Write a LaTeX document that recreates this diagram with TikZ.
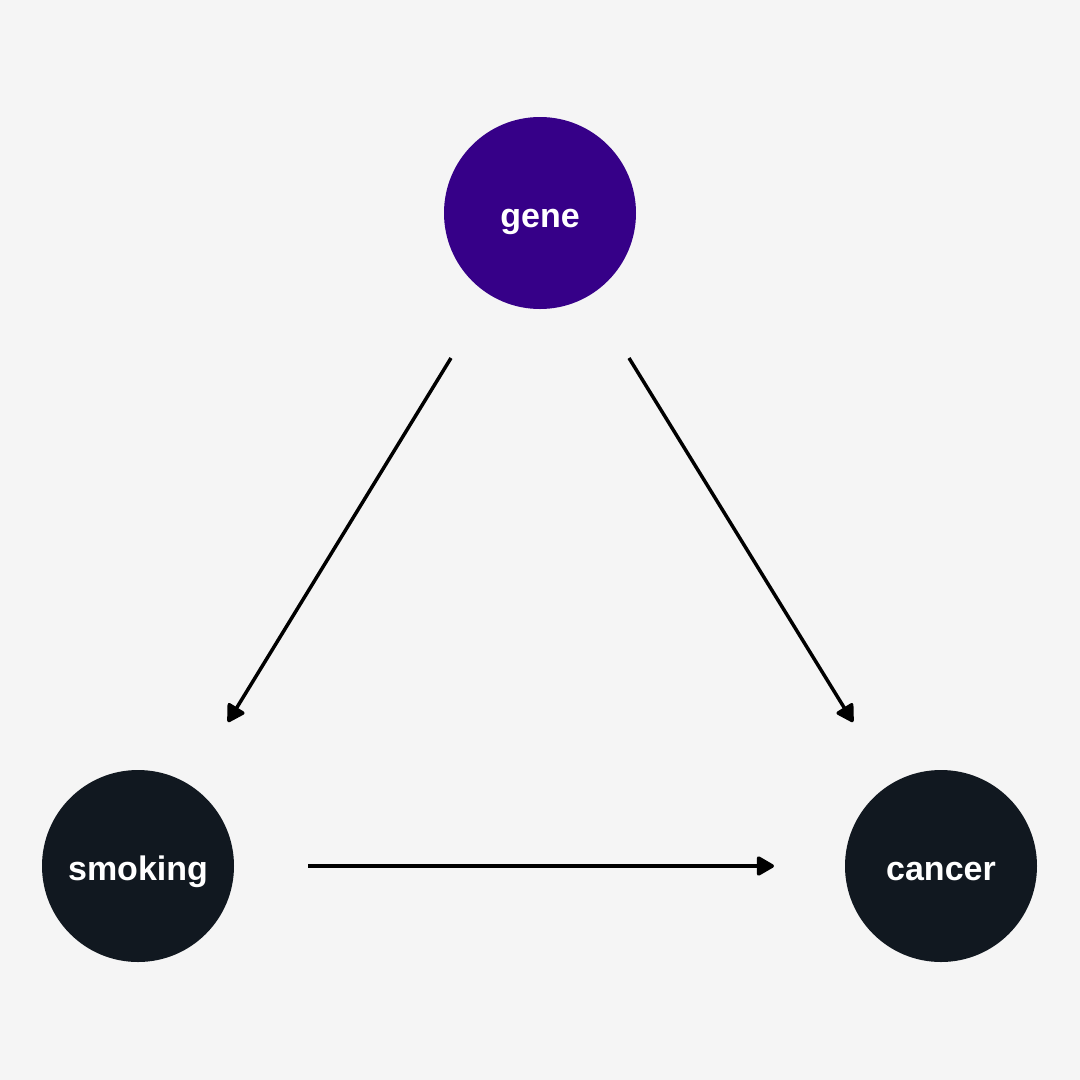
\documentclass[tikz,border=0pt]{standalone}
\usepackage{fontspec}
\setmainfont{Liberation Sans}
\usetikzlibrary{arrows.meta}
\definecolor{bg}{HTML}{F5F5F5}
\definecolor{genec}{HTML}{360088}
\definecolor{darkc}{HTML}{111820}
\begin{document}
\begin{tikzpicture}[x=1pt,y=-1pt,
  varnode/.style={circle,minimum size=192pt,inner sep=0pt,text=white,text height=28pt,text depth=0pt,font=\fontsize{34}{40}\selectfont\bfseries},
  edge/.style={line width=3.5pt,-{Triangle[length=19pt,width=21pt,round]}}]
\fill[bg] (0,0) rectangle (1080,1080);
\useasboundingbox (0,0) rectangle (1080,1080);
\node[varnode,fill=genec] (gene) at (540,213) {gene};
\node[varnode,fill=darkc] (smoking) at (138,866) {smoking};
\node[varnode,fill=darkc] (cancer) at (941,866) {cancer};
\coordinate (g1) at (451,358);
\coordinate (s1) at (228,722);
\coordinate (g2) at (629,358);
\coordinate (c1) at (853,722);
\coordinate (s2) at (308,866);
\coordinate (c2) at (774,866);
\draw[edge] (g1) -- (s1);
\draw[edge] (g2) -- (c1);
\draw[edge] (s2) -- (c2);
\end{tikzpicture}
\end{document}
